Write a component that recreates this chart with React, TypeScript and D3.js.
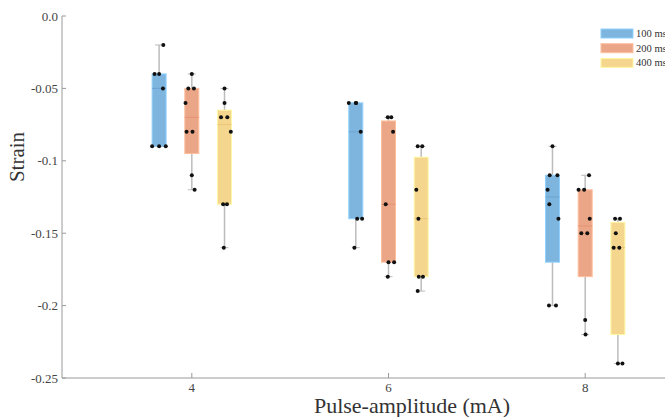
import React from 'react';
import * as d3 from 'd3';

// pulse amplitudes (mA) and pulse durations
const amplitudes = ['4', '6', '8'];
const durations = ['100 ms', '200 ms', '400 ms'];

// measured strain per amplitude, one array per duration
const strain100ms = [
  [-0.02, -0.04, -0.04, -0.05, -0.09, -0.09, -0.09],
  [-0.06, -0.06, -0.06, -0.08, -0.14, -0.14, -0.16],
  [-0.09, -0.11, -0.11, -0.12, -0.13, -0.14, -0.2, -0.2],
];
const strain200ms = [
  [-0.04, -0.05, -0.05, -0.06, -0.08, -0.08, -0.11, -0.12],
  [-0.07, -0.07, -0.08, -0.13, -0.17, -0.17, -0.18],
  [-0.11, -0.12, -0.12, -0.14, -0.15, -0.15, -0.21, -0.22],
];
const strain400ms = [
  [-0.05, -0.06, -0.07, -0.07, -0.08, -0.13, -0.13, -0.16],
  [-0.09, -0.09, -0.12, -0.14, -0.18, -0.18, -0.19],
  [-0.14, -0.14, -0.15, -0.16, -0.16, -0.24, -0.24],
];

// horizontal jitter of the dots (fraction of half box)
const jitter100ms = [
  [0.6, -0.65, 0, 0.55, -1, 0, 0.95],
  [-1, 0, 0.05, 0.7, 0.2, 0.9, -0.2],
  [0, -0.4, 0.7, -0.7, -0.45, 0.85, -0.5, 0.5],
];
const jitter200ms = [
  [0, -0.5, 0.3, -0.9, -0.75, 0.1, 0, 0.4],
  [-0.1, 0.4, 0.65, -0.4, 0, 0.8, -0.1],
  [0.55, -0.95, -0.15, 0.65, -0.55, 0.3, 0, 0.05],
];
const jitter400ms = [
  [0, 0, -0.5, 0.4, 0.9, -0.2, 0.35, -0.1],
  [-0.5, 0.15, -0.7, -0.4, -0.35, 0.25, -0.5],
  [-0.4, 0.3, -0.3, -0.6, 0.2, 0, 0.65],
];

const yTicks = [0, -0.05, -0.1, -0.15, -0.2, -0.25];
const yTickLabels = ['0.0', '-0.05', '-0.1', '-0.15', '-0.2', '-0.25'];

const strainBySeries = [strain100ms, strain200ms, strain400ms];
const jitterBySeries = [jitter100ms, jitter200ms, jitter400ms];

const fills = ['#7db5de', '#eba688', '#f5d68e'];
const medians = ['#6aa3d0', '#e49373', '#ecc676'];

const width = 665;
const height = 417;
const font = '"Liberation Serif", "Times New Roman", serif';

// matlab style quantile (hinge-like, interpolated)
const quantile = (values: number[], p: number) => {
  const s = [...values].sort((a, b) => a - b);
  const n = s.length;
  const pos = n * p + 0.5;
  if (pos <= 1) return s[0];
  if (pos >= n) return s[n - 1];
  const lo = Math.floor(pos);
  const f = pos - lo;
  return s[lo - 1] + f * (s[lo] - s[lo - 1]);
};

const App = () => {
  const x = d3.scaleBand().domain(amplitudes).range([62, 715]).paddingInner(0).paddingOuter(0.16);
  const dodge = d3.scalePoint().domain(durations).range([-32.7, 32.7]);
  const y = d3.scaleLinear().domain([-0.25, 0]).range([378, 16]);
  const boxW = 14;

  const boxes: any[] = [];
  durations.forEach((dur, si) => {
    amplitudes.forEach((amp, gi) => {
      const vals = strainBySeries[si][gi];
      const cx = (x(amp) as number) + x.bandwidth() / 2 + (dodge(dur) as number);
      boxes.push({
        key: dur + amp,
        si,
        cx,
        vals,
        jit: jitterBySeries[si][gi],
        q1: quantile(vals, 0.25),
        med: quantile(vals, 0.5),
        q3: quantile(vals, 0.75),
        lo: d3.min(vals) as number,
        hi: d3.max(vals) as number,
      });
    });
  });

  const xAxisY = y(-0.25);

  return (
    <svg width={width} height={height} style={{ position: 'absolute', left: 0, top: 0, background: '#fff' }}>
      {/* axes */}
      <line x1={62} x2={width} y1={xAxisY} y2={xAxisY} stroke="#9a9a9a" strokeWidth={1} />
      <line x1={62} x2={62} y1={y(0)} y2={xAxisY} stroke="#9a9a9a" strokeWidth={1} />
      {yTicks.map((t, i) => (
        <g key={t}>
          <line x1={62} x2={66} y1={y(t)} y2={y(t)} stroke="#9a9a9a" />
          <text x={58} y={y(t)} dy="0.35em" textAnchor="end" fontFamily={font} fontSize={13} fill="#444">
            {yTickLabels[i]}
          </text>
        </g>
      ))}
      {amplitudes.map((a) => {
        const cx = (x(a) as number) + x.bandwidth() / 2;
        return (
          <g key={a}>
            <line x1={cx} x2={cx} y1={xAxisY} y2={xAxisY - 5} stroke="#9a9a9a" />
            <text x={cx} y={xAxisY + 14} textAnchor="middle" fontFamily={font} fontSize={13} fill="#444">
              {a}
            </text>
          </g>
        );
      })}
      <text x={412} y={413} textAnchor="middle" fontFamily={font} fontSize={22} fill="#333">
        Pulse-amplitude (mA)
      </text>
      <text transform="translate(24,157) rotate(-90)" textAnchor="middle" fontFamily={font} fontSize={21} fill="#333">
        Strain
      </text>

      {/* boxes */}
      {boxes.map((b) => (
        <g key={b.key}>
          <line x1={b.cx} x2={b.cx} y1={y(b.hi)} y2={y(b.q3)} stroke="#bcbcbc" strokeWidth={1.5} />
          <line x1={b.cx} x2={b.cx} y1={y(b.q1)} y2={y(b.lo)} stroke="#bcbcbc" strokeWidth={1.5} />
          <line x1={b.cx - 4} x2={b.cx + 4} y1={y(b.hi)} y2={y(b.hi)} stroke="#bcbcbc" strokeWidth={1} />
          <line x1={b.cx - 4} x2={b.cx + 4} y1={y(b.lo)} y2={y(b.lo)} stroke="#bcbcbc" strokeWidth={1} />
          <rect
            x={b.cx - boxW / 2}
            y={y(b.q3)}
            width={boxW}
            height={Math.max(0.5, y(b.q1) - y(b.q3))}
            fill={fills[b.si]}
            stroke={d3.color(fills[b.si])!.brighter(0.4).toString()}
            strokeWidth={1}
          />
          <line
            x1={b.cx - boxW / 2}
            x2={b.cx + boxW / 2}
            y1={y(b.med)}
            y2={y(b.med)}
            stroke={medians[b.si]}
            strokeWidth={1}
          />
          {b.vals.map((v: number, i: number) => (
            <circle key={i} cx={b.cx + b.jit[i] * (boxW / 2)} cy={y(v)} r={2} fill="#111" />
          ))}
        </g>
      ))}

      {/* legend */}
      {durations.map((d, i) => (
        <g key={d} transform={`translate(601,${29 + i * 14.7})`}>
          <rect width={32} height={9} fill={fills[i]} stroke={d3.color(fills[i])!.brighter(0.4).toString()} />
          <text x={35} y={8} fontFamily={font} fontSize={10.5} fill="#333">
            {d}
          </text>
        </g>
      ))}
    </svg>
  );
};

export default App;
